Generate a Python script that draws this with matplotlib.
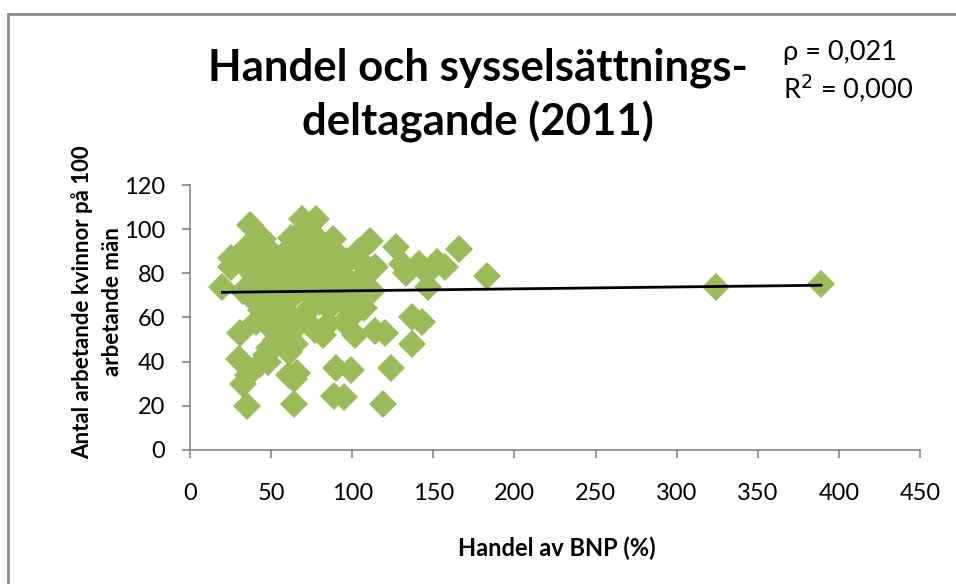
import numpy as np
import matplotlib
matplotlib.use("Agg")
import matplotlib.pyplot as plt
from matplotlib.lines import Line2D

# Handel (% av BNP) och antal arbetande kvinnor per 100 man, 2011
handel = [20, 25, 25, 35, 30, 31, 33, 36, 64, 89, 95, 119, 99, 90, 124,
          61, 64, 66, 61, 47, 49, 43, 48, 102, 114, 120, 137, 137, 143, 147,
          183, 166, 152, 157, 141, 146, 127, 131, 133, 111, 114, 104, 108, 100,
          93, 101, 107, 99, 95, 86, 80, 82, 77, 85, 70, 67, 64, 56, 51, 53,
          48, 44, 40, 36, 33, 37, 35, 39, 45, 43, 48, 51, 54, 58, 62, 69,
          78, 67, 73, 76, 82, 88, 91, 96, 85, 78, 70, 64, 57, 51, 43, 67,
          76, 85, 91, 74, 61, 54, 47, 41, 53, 73, 79, 61, 42, 36, 73, 82,
          59, 65, 324, 389, 60, 72, 88, 55, 46, 38, 66, 79, 94, 104, 112]
kvinnor = [74, 87, 83, 20, 41, 53, 30, 34, 21, 24.5, 24, 21, 36, 37, 37,
           34, 32, 35, 44.5, 43, 46, 39, 40, 52, 54, 53, 48, 60, 58, 74,
           79, 91, 85, 83, 84, 80, 92, 84, 80, 94.5, 83, 86, 79.5, 75,
           68, 68, 64.5, 60, 58, 64.5, 67, 52, 54.5, 57, 61, 59, 55.5, 59, 54.5, 50,
           66, 63.5, 68, 70.5, 72, 102, 92, 85, 95.5, 81, 91, 85.5, 79.5, 86, 96, 104.5,
           104.5, 98, 99, 93, 91, 95.5, 88.5, 85.5, 84, 84, 86, 82, 75, 73, 75, 75,
           77, 76, 77, 70.5, 68, 66, 60, 58, 70.5, 82, 95.5, 91, 88.5, 82, 63.5, 72,
           50, 48, 74, 75, 62, 72, 80, 78, 88, 81, 56, 77, 83, 90, 72]

# linear trend as shown in the chart (start and end)
trend_x = [20, 389]
trend_y = [71.4, 74.6]

x_ticks = [0, 50, 100, 150, 200, 250, 300, 350, 400, 450]
y_ticks = [0, 20, 40, 60, 80, 100, 120]

grey = "#868686"
green = "#9BBB59"
font = "Lato"

fig = plt.figure(figsize=(9.56, 5.84), dpi=100)
ax = fig.add_axes([0.1987, 0.2295, 0.7636, 0.4537])

ax.plot(handel, kvinnor, linestyle="none", marker="D", markersize=14,
        color=green, markeredgewidth=0)
ax.plot(trend_x, trend_y, color="black", linewidth=2)

ax.set_xlim(0, 450)
ax.set_ylim(0, 120)
ax.set_xticks(x_ticks)
ax.set_yticks(y_ticks)
ax.tick_params(labelsize=17, color=grey, width=1.2, length=6)
ax.tick_params(axis="x", pad=18)
ax.tick_params(axis="y", pad=12)
for lab in ax.get_xticklabels() + ax.get_yticklabels():
    lab.set_family(font)
for side in ["top", "right"]:
    ax.spines[side].set_visible(False)
for side in ["left", "bottom"]:
    ax.spines[side].set_color(grey)
    ax.spines[side].set_linewidth(1.2)

fig.text(478 / 956, 1 - 95 / 584, "Handel och sysselsättnings-\ndeltagande (2011)",
         ha="center", va="center", fontsize=31.5, fontweight="bold",
         family=font, linespacing=1.38)
fig.text(783 / 956, 1 - 72 / 584, "ρ = 0,021\nR$^2$ = 0,000", ha="left", va="center",
         fontsize=19.5, family=font, linespacing=1.25)
fig.text(557 / 956, 1 - 548 / 584, "Handel av BNP (%)", ha="center", va="center",
         fontsize=17, fontweight="bold", family=font)
fig.text(97 / 956, 1 - 302 / 584, "Antal arbetande kvinnor på 100\narbetande män",
         ha="center", va="center", rotation=90, fontsize=16, fontweight="bold",
         family=font, multialignment="center", linespacing=1.5)

# chart border
fig.add_artist(Line2D([8 / 956, 8 / 956], [0, 1 - 14 / 584], color="#8c8c8c", linewidth=2))
fig.add_artist(Line2D([8 / 956, 1], [1 - 14 / 584, 1 - 14 / 584], color="#8c8c8c", linewidth=2))

fig.savefig("out.png", dpi=100)
